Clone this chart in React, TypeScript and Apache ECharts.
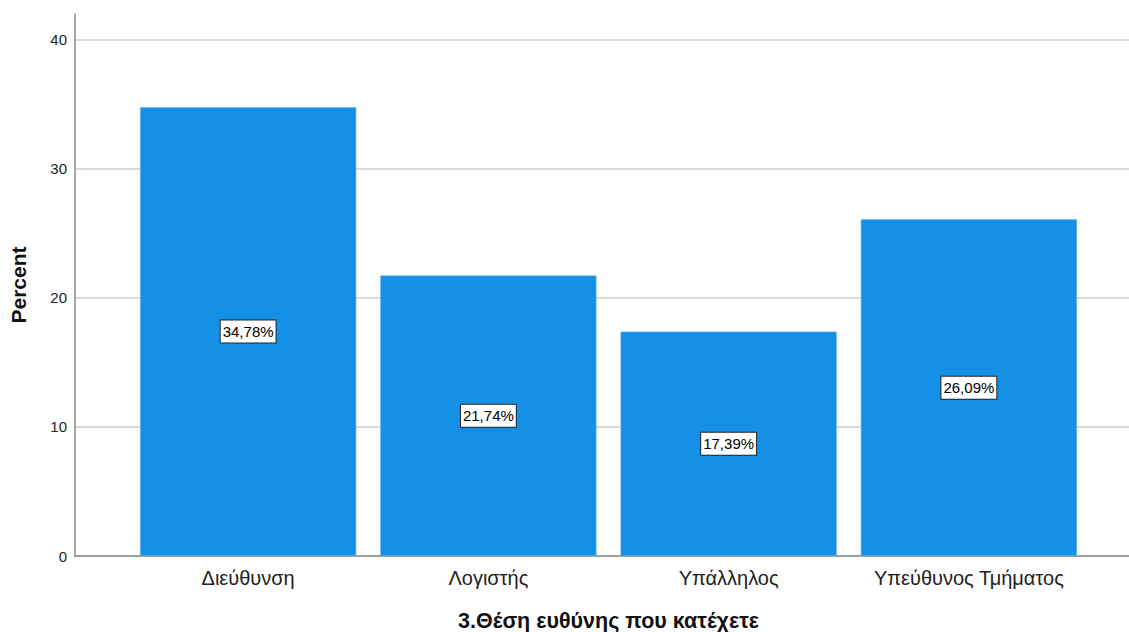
import React, { useEffect, useRef } from "react";
import * as echarts from "echarts";

const categories = ["Διεύθυνση", "Λογιστής", "Υπάλληλος", "Υπεύθυνος Τμήματος"];
const percents = [34.78, 21.74, 17.39, 26.09];
const yTicks = [0, 10, 20, 30, 40];
const xTitle = "3.Θέση ευθύνης που κατέχετε";
const yTitle = "Percent";

const FONT = "'Liberation Sans', Arial, sans-serif";
const GRID_C = "#cfcfcf";

export default function App() {
  const ref = useRef<HTMLDivElement>(null);
  useEffect(() => {
    if (!ref.current) return;
    const chart = echarts.init(ref.current, undefined, { renderer: "svg" });
    chart.setOption({
      animation: false,
      textStyle: { fontFamily: FONT },
      grid: [
        { left: 75, right: 0, top: 14, bottom: 76, outerBoundsMode: "none", containLabel: false },
        { left: 128, right: 40, top: 14, bottom: 76, outerBoundsMode: "none", containLabel: false },
      ],
      xAxis: [
        {
          gridIndex: 0,
          type: "value",
          min: 0,
          max: 1,
          axisLine: { show: true, lineStyle: { color: "#8a8a8a", width: 1.5 } },
          axisTick: { show: false },
          axisLabel: { show: false },
          splitLine: { show: false },
        },
        {
          gridIndex: 1,
          type: "category",
          data: categories,
          axisLine: { show: false },
          axisTick: { show: false },
          axisLabel: { fontSize: 20, color: "#222", margin: 12, fontFamily: FONT, interval: 0, hideOverlap: false },
          name: xTitle,
          nameLocation: "middle",
          nameGap: 54,
          nameTextStyle: { fontSize: 21.5, fontWeight: "bold", color: "#111", fontFamily: FONT },
        },
      ],
      yAxis: [
        {
          gridIndex: 0,
          type: "value",
          min: yTicks[0],
          max: 42,
          interval: 10,
          axisLine: { show: true, lineStyle: { color: "#8a8a8a", width: 1.5 } },
          axisTick: { show: false },
          axisLabel: {
            fontSize: 15,
            color: "#222",
            margin: 8,
            fontFamily: FONT,
            formatter: (v: number) => (yTicks.includes(v) ? String(v) : ""),
          },
          splitLine: {
            show: true,
            lineStyle: {
              color: [GRID_C, GRID_C, GRID_C, GRID_C, GRID_C, "rgba(0,0,0,0)"],
              width: 1.5,
            },
          },
          name: yTitle,
          nameLocation: "middle",
          nameGap: 46,
          nameTextStyle: { fontSize: 21, fontWeight: "bold", color: "#111", fontFamily: FONT },
        },
        {
          gridIndex: 1,
          type: "value",
          min: 0,
          max: 42,
          show: false,
        },
      ],
      series: [
        {
          type: "bar",
          xAxisIndex: 1,
          yAxisIndex: 1,
          data: percents,
          barCategoryGap: "10%",
          itemStyle: { color: "#1490e6", borderColor: "#6fb8ee", borderWidth: 0.6 },
          label: {
            show: true,
            position: "inside",
            formatter: (p: any) => p.value.toFixed(2).replace(".", ",") + "%",
            fontSize: 15,
            color: "#000",
            fontFamily: FONT,
            backgroundColor: "#fff",
            borderColor: "#222",
            borderWidth: 1,
            padding: [4, 2, 3, 2],
          },
        },
      ],
    });
    return () => chart.dispose();
  }, []);
  return (
    <div
      ref={ref}
      style={{ position: "fixed", left: 0, top: 0, width: 1129, height: 632, background: "#fff" }}
    />
  );
}
